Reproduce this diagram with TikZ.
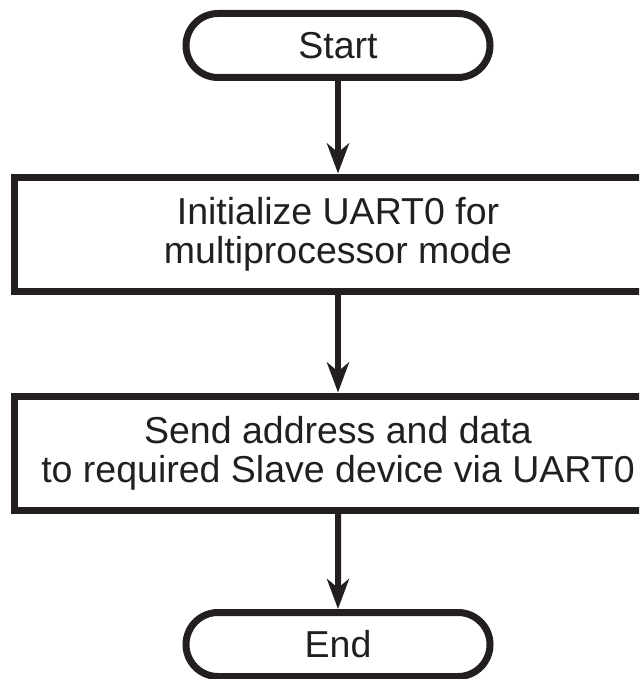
\documentclass[tikz,border=0pt]{standalone}
\usepackage{fontspec}
\setmainfont{Liberation Sans}
\usetikzlibrary{arrows.meta, shapes.misc}
\definecolor{cink}{HTML}{231F20}
\tikzset{
  every picture/.style={x=1pt, y=-1pt, line width=7pt},
  term/.style={draw=cink, rounded rectangle, minimum width=304pt, minimum height=64pt, inner sep=0pt, text=cink, font=\fontsize{37.5}{39}\selectfont},
  procbox/.style={draw=cink, rectangle, minimum width=647pt, minimum height=114pt, inner sep=0pt, align=center, text=cink, font=\fontsize{37.5}{39}\selectfont},
  arrow/.style={-{Stealth[length=30pt, width=22pt, inset=9pt]}, draw=cink, line width=6pt},
}

\begin{document}
\begin{tikzpicture}
  \useasboundingbox (0,0) rectangle (639,679);
  \clip (0,0) rectangle (639,679);
  % terminals and steps
  \node[term] (start) at (338,45.5) {Start};
  \node[procbox] (init) at (338,234) {Initialize UART0 for\\multiprocessor mode};
  \node[procbox] (send) at (338,453) {Send address and data\\to required Slave device via UART0};
  \node[term] (end) at (338,644.5) {End};
  % flow
  \draw[arrow] (start) -- (init);
  \draw[arrow] (init) -- (send);
  \draw[arrow] (send) -- (end);
\end{tikzpicture}
\end{document}
